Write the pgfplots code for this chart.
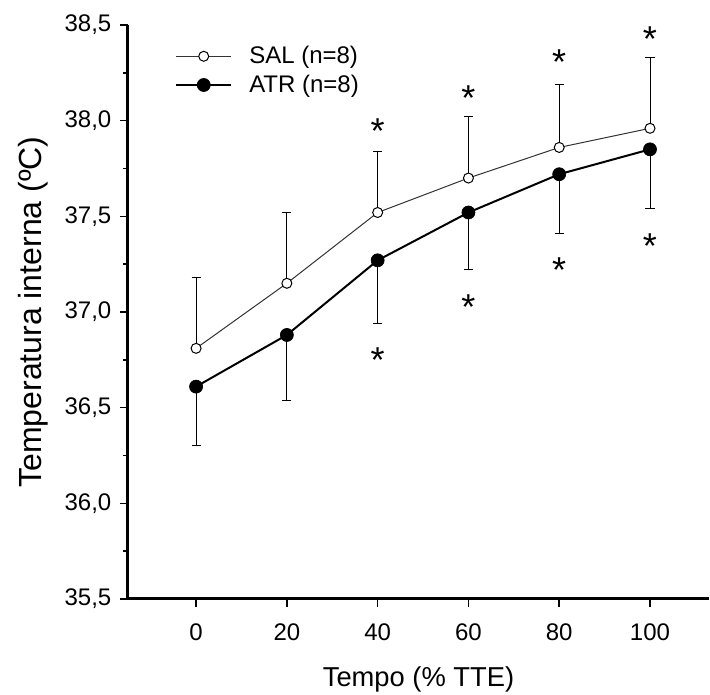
\documentclass[border=0pt]{standalone}
\usepackage{pgfplots}
\pgfplotsset{compat=1.18}
\usepackage{fontspec}
\setmainfont{Liberation Sans}
\begin{document}
\begin{tikzpicture}
\begin{axis}[
  scale only axis, width=435.75pt, height=430.5pt,
  xmin=-15, xmax=113, ymin=35.5, ymax=38.5,
  clip=false,
  axis x line=bottom, axis y line=left,
  axis line style={-, line width=2.25pt, black},
  xtick={0,20,40,60,80,100},
  ytick={35.5,36,36.5,37,37.5,38,38.5},
  minor ytick={35.75,36.25,36.75,37.25,37.75,38.25},
  tick align=outside,
  major tick length=6pt, minor tick length=3.5pt,
  tick style={line width=1.1pt, black},
  ticklabel style={font=\fontsize{18}{20}\selectfont},
  /pgf/number format/assume math mode=true,
  yticklabel style={xshift=-3pt, /pgf/number format/.cd, fixed, fixed zerofill, precision=1, use comma},
  xticklabel style={yshift=-9pt},
  xlabel={Tempo (\% TTE)},
  ylabel={Temperatura interna (ºC)},
  xlabel style={at={(axis description cs:0.5,0)}, anchor=base, yshift=-66pt, font=\fontsize{20.5}{24}\selectfont},
  ylabel style={at={(axis description cs:0,0.5)}, anchor=center, yshift=71.25pt, font=\fontsize{24}{28}\selectfont},
  legend style={at={(axis description cs:0,1)}, anchor=north west, xshift=35.25pt, yshift=-16pt,
    draw=none, fill=none, font=\fontsize{18}{20}\selectfont, inner sep=0pt,
    row sep=7pt, column sep=12.75pt, nodes={inner sep=0pt}},
  legend cell align=left,
  legend image code/.code={\draw[mark repeat=2, mark phase=2, #1] plot coordinates {(0pt,0pt) (20.6pt,0pt) (41.25pt,0pt)};},
]
\coordinate (bl) at (rel axis cs:0,0);
% SAL
\addplot[black!80, line width=0.75pt, mark=*, mark size=3.75pt,
  mark options={fill=white, draw=black, line width=0.75pt},
  error bars/.cd, y dir=plus, y explicit,
  error bar style={black, line width=0.75pt},
  error mark options={rotate=90, mark size=3.4pt, line width=0.75pt, black}]
coordinates {
(0,36.81) +- (0,0.37)
(20,37.15) +- (0,0.37)
(40,37.52) +- (0,0.32)
(60,37.70) +- (0,0.32)
(80,37.86) +- (0,0.33)
(100,37.96) +- (0,0.37)
};
% ATR
\addplot[black, line width=1.5pt, mark=*, mark size=4.9pt,
  mark options={fill=black, draw=black, line width=0.5pt},
  error bars/.cd, y dir=minus, y explicit,
  error bar style={black, line width=0.75pt},
  error mark options={rotate=90, mark size=3.4pt, line width=0.75pt, black}]
coordinates {
(0,36.61) +- (0,0.31)
(20,36.88) +- (0,0.34)
(40,37.27) +- (0,0.33)
(60,37.52) +- (0,0.30)
(80,37.72) +- (0,0.31)
(100,37.85) +- (0,0.31)
};
% asterisks
\addplot[forget plot, only marks, mark=none, nodes near coords={*},
  every node near coord/.style={anchor=base, yshift=-15.5pt, inner sep=0pt, font=\fontsize{27}{27}\selectfont}]
coordinates {(40,37.99) (60,38.16) (80,38.35) (100,38.47)
(40,36.79) (60,37.07) (80,37.26) (100,37.39)};
\legend{SAL (n=8), ATR (n=8)}
\end{axis}
\pgfresetboundingbox
\path[use as bounding box] (bl) ++(-96pt,-72pt) rectangle ++(532.5pt,521.25pt);
\end{tikzpicture}
\end{document}
